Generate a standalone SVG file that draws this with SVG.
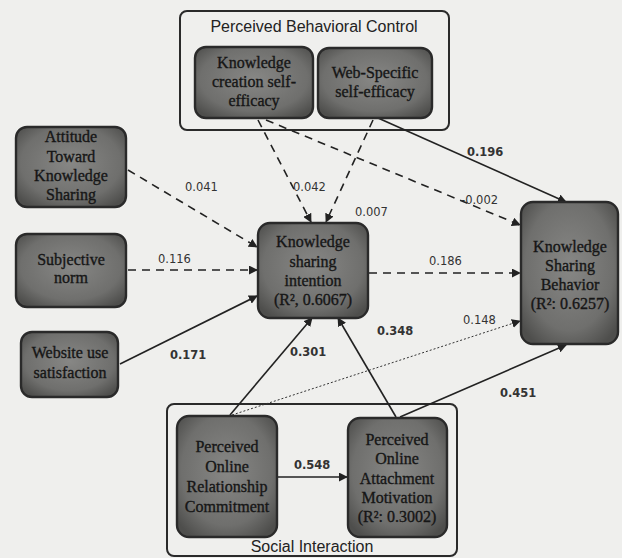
<svg xmlns="http://www.w3.org/2000/svg" width="622" height="558" viewBox="0 0 622 558">
<defs>
<radialGradient id="g" cx="50%" cy="45%" r="65%">
<stop offset="0" stop-color="#878785"/>
<stop offset="0.7" stop-color="#6f6f6d"/>
<stop offset="1" stop-color="#4e4e4c"/>
</radialGradient>
<marker id="ah2" viewBox="0 0 10 10" refX="9" refY="5" markerWidth="9" markerHeight="9" markerUnits="userSpaceOnUse" orient="auto">
<path d="M0,0 L10,5 L0,10 z" fill="#222"/>
</marker>
</defs>
<style>
.bg{fill:#efefed}
.grp{fill:none;stroke:#2a2a2a;stroke-width:2}
.grpt{font-family:"Liberation Sans",Arial,sans-serif;font-size:16px;fill:#222;text-anchor:middle}
.node{fill:url(#g);stroke:#2a2a2a;stroke-width:2.4}
.nt{font-family:"Liberation Serif","Times New Roman",serif;font-size:16px;fill:#161616;stroke:#161616;stroke-width:0.35;text-anchor:middle}
.e{fill:none;stroke:#222;stroke-width:1.6;marker-end:url(#ah2)}
.d{stroke-dasharray:8,6}
.dot{stroke-width:1;stroke-dasharray:2,2;stroke:#333}
.lb{font-family:"DejaVu Sans",Verdana,sans-serif;font-size:11.5px;fill:#333}
.lbb{font-family:"DejaVu Sans",Verdana,sans-serif;font-size:11.5px;font-weight:bold;fill:#333}
</style>
<rect class="bg" x="0" y="0" width="622" height="558"/>

<g id="pbc-group">
<rect class="grp" x="180" y="11" width="269" height="119" rx="7"/>
<text class="grpt" x="314" y="32">Perceived Behavioral Control</text>
</g>
<g id="si-group">
<rect class="grp" x="167" y="404" width="290" height="152" rx="7"/>
<text class="grpt" x="312" y="552">Social Interaction</text>
</g>

<g id="connectors">
<path class="e d" d="M128,170 L257,247"/>
<path class="e d" d="M128,270 L257,270"/>
<path class="e" d="M120,364 L257,296"/>
<path class="e d" d="M258,120 L311,222"/>
<path class="e d" d="M373,120 L326,222"/>
<path class="e d" d="M266,120 L520,225"/>
<path class="e" d="M378,118 L566,202"/>
<path class="e d" d="M369,273 L520,273"/>
<path class="e" d="M230,415 L312,318"/>
<path class="e dot" d="M232,415 L520,321"/>
<path class="e" d="M396,417 L338,318"/>
<path class="e" d="M400,417 L566,345"/>
<path class="e" d="M278,477 L347,477"/>
</g>

<g id="edge-labels">
<text class="lb" x="185" y="191">0.041</text>
<text class="lb" x="158" y="263">0.116</text>
<text class="lbb" x="170" y="359">0.171</text>
<text class="lb" x="293" y="191">0.042</text>
<text class="lb" x="355" y="216">0.007</text>
<text class="lb" x="461" y="204">-0.002</text>
<text class="lbb" x="467" y="156">0.196</text>
<text class="lb" x="429" y="265">0.186</text>
<text class="lbb" x="290" y="356">0.301</text>
<text class="lb" x="463" y="324">0.148</text>
<text class="lbb" x="377" y="335">0.348</text>
<text class="lbb" x="500" y="397">0.451</text>
<text class="lbb" x="294" y="469">0.548</text>
</g>

<g id="kcse">
<rect class="node" x="195" y="47" width="118" height="71" rx="11"/>
<text class="nt" x="254" y="68">Knowledge</text>
<text class="nt" x="254" y="87">creation self-</text>
<text class="nt" x="254" y="106">efficacy</text>
</g>
<g id="wsse">
<rect class="node" x="318" y="48" width="114" height="70" rx="11"/>
<text class="nt" x="375" y="78">Web-Specific</text>
<text class="nt" x="375" y="97">self-efficacy</text>
</g>
<g id="attitude">
<rect class="node" x="16" y="127" width="110" height="80" rx="11"/>
<text class="nt" x="71" y="142">Attitude</text>
<text class="nt" x="71" y="162">Toward</text>
<text class="nt" x="71" y="181">Knowledge</text>
<text class="nt" x="71" y="200">Sharing</text>
</g>
<g id="subjective">
<rect class="node" x="16" y="234" width="110" height="73" rx="11"/>
<text class="nt" x="71" y="265">Subjective</text>
<text class="nt" x="71" y="283">norm</text>
</g>
<g id="website">
<rect class="node" x="21" y="332" width="97" height="65" rx="11"/>
<text class="nt" x="70" y="358">Website use</text>
<text class="nt" x="70" y="378">satisfaction</text>
</g>
<g id="intention">
<rect class="node" x="258" y="223" width="110" height="95" rx="12"/>
<text class="nt" x="313" y="247">Knowledge</text>
<text class="nt" x="313" y="267">sharing</text>
<text class="nt" x="313" y="286">intention</text>
<text class="nt" x="313" y="305">(R², 0.6067)</text>
</g>
<g id="behavior">
<rect class="node" x="521" y="202" width="97" height="142" rx="12"/>
<text class="nt" x="570" y="252">Knowledge</text>
<text class="nt" x="570" y="271">Sharing</text>
<text class="nt" x="570" y="290">Behavior</text>
<text class="nt" x="570" y="309">(R²: 0.6257)</text>
</g>
<g id="commitment">
<rect class="node" x="177" y="416" width="100" height="121" rx="12"/>
<text class="nt" x="227" y="452">Perceived</text>
<text class="nt" x="227" y="472">Online</text>
<text class="nt" x="227" y="492">Relationship</text>
<text class="nt" x="227" y="512">Commitment</text>
</g>
<g id="attachment">
<rect class="node" x="348" y="418" width="99" height="119" rx="12"/>
<text class="nt" x="397" y="445">Perceived</text>
<text class="nt" x="397" y="464">Online</text>
<text class="nt" x="397" y="484">Attachment</text>
<text class="nt" x="397" y="503">Motivation</text>
<text class="nt" x="397" y="522">(R²: 0.3002)</text>
</g>
</svg>
